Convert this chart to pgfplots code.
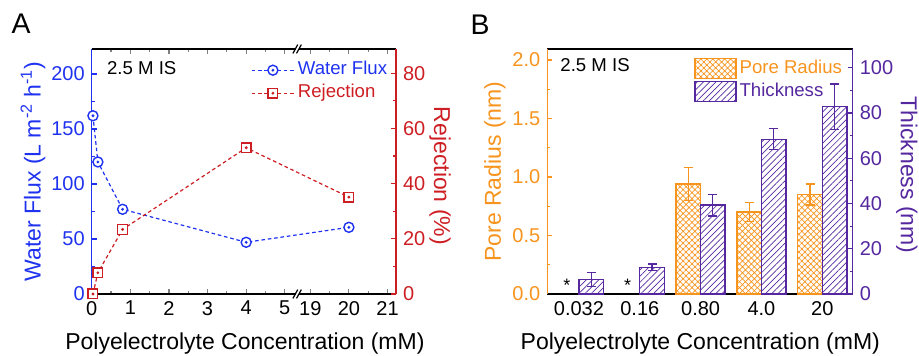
\documentclass[border=0pt]{standalone}
\usepackage{fontspec}
\setmainfont{Liberation Sans}
\usepackage{pgfplots}
\usepackage{pgfplotstable}
\pgfplotsset{compat=1.18}
\usetikzlibrary{patterns.meta}
\definecolor{blueC}{RGB}{30,50,240}
\definecolor{redC}{RGB}{205,30,35}
\definecolor{orangeC}{RGB}{247,148,30}
\definecolor{purpleC}{RGB}{85,40,160}

\pgfdeclareplotmark{odot}{%
  \pgfpathcircle{\pgfpointorigin}{\pgfplotmarksize}\pgfusepathqfillstroke
  \pgfpathcircle{\pgfpointorigin}{0.3pt}\pgfusepathqstroke}
\pgfdeclareplotmark{sdot}{%
  \pgfpathrectangle{\pgfpoint{-\pgfplotmarksize}{-\pgfplotmarksize}}{\pgfpoint{2\pgfplotmarksize}{2\pgfplotmarksize}}\pgfusepathqfillstroke
  \pgfpathcircle{\pgfpointorigin}{0.3pt}\pgfusepathqstroke}

\pgfplotstableread{
x y e
2 0.94 0.14
3 0.70 0.08
4 0.85 0.09
}\poretable
\pgfplotstableread{
x y e
0 6.5 3.1
1 11.8 1.5
2 39.3 4.8
3 68.4 4.7
4 82.8 10
}\thicktable

\pgfplotsset{
  common/.style={scale only axis, clip=false,
    tick align=inside, major tick length=2.5pt, minor tick length=1.5pt,
    /pgf/number format/assume math mode=true,
    tick label style={font=\fontsize{10}{12}\selectfont},
    label style={font=\fontsize{11.5}{13}\selectfont},
    tick style={line width=0.6pt},
    axis line style={line width=0.7pt},
    legend cell align=left,
    legend style={draw=none, fill=none, inner sep=0pt, font=\fontsize{9.3}{11}\selectfont,
      nodes={text height=6.6pt, text depth=1.9pt, inner sep=1.5pt}},
  },
  linelegend/.style={legend image code/.code={\draw[mark repeat=2,mark phase=2,##1] plot coordinates {(0pt,0pt) (10.7pt,0pt) (21.4pt,0pt)};}},
  boxlegend/.style={legend image code/.code={\draw[##1] (0pt,-5pt) rectangle (20.5pt,5pt);}},
}

\begin{document}
\begin{tikzpicture}
% ---------------- Panel A ----------------
\begin{axis}[at={(45.85pt,31pt)}, anchor=south west, width=152.15pt, height=122.5pt,
  xmin=0, xmax=7.88, ymin=0, ymax=222.7,
  axis x line=box, axis y line*=left,
  x axis line style={black,-}, y axis line style={blueC,-},
  x filter/.expression={x>10 ? x-13.34 : x},
  xtick={0,1,2,3,4,5,5.66,6.66,7.66}, xticklabels={0,1,2,3,4,5,19,20,21},
  minor xtick={0.5,1.5,2.5,3.5,4.5,6.16,7.16},
  xtick pos=both, xticklabel pos=lower,
  ytick={0,50,100,150,200}, yticklabels={0\hspace{4.5pt},50,100,150,200},
  minor ytick={25,75,125,175},
  ytick style={blueC}, yticklabel style={blueC},
  xlabel={Polyelectrolyte Concentration (mM)},
  xlabel style={at={(axis description cs:0.5035,-0.204)}, anchor=center},
  ylabel={Water Flux (L m\textsuperscript{-2} h\textsuperscript{-1})},
  ylabel style={at={(axis description cs:-0.1929,0.5)}, anchor=center, blueC},
  common, tick align=inside]
\addplot[blueC, line width=0.6pt, dash pattern=on 1.8pt off 1.4pt, mark=odot, mark size=2.5pt,
  mark options={solid, fill=white, line width=0.7pt}] table {
x y
0.032 162
0.16 120
0.8 77
4 47
20 60.6
};
\node[anchor=west, inner sep=0pt, font=\fontsize{9.3}{11}\selectfont] at (rel axis cs:0.0493,0.9237) {2.5 M IS};
\fill[white] (rel axis cs:0.6751,0) ++(-0.8pt,-0.8pt) rectangle ++(1.6pt,1.6pt);
\draw[black, line width=0.6pt] (rel axis cs:0.6751,0) ++(-2.1pt,-2.2pt) -- ++(2.4pt,4.4pt);
\draw[black, line width=0.6pt] (rel axis cs:0.6751,0) ++(-0.3pt,-2.2pt) -- ++(2.4pt,4.4pt);
\fill[white] (rel axis cs:0.6751,1) ++(-0.8pt,-0.8pt) rectangle ++(1.6pt,1.6pt);
\draw[black, line width=0.6pt] (rel axis cs:0.6751,1) ++(-2.1pt,-2.2pt) -- ++(2.4pt,4.4pt);
\draw[black, line width=0.6pt] (rel axis cs:0.6751,1) ++(-0.3pt,-2.2pt) -- ++(2.4pt,4.4pt);
\end{axis}
\begin{axis}[at={(45.85pt,31pt)}, anchor=south west, width=152.15pt, height=122.5pt,
  xmin=0, xmax=7.88, ymin=0, ymax=88.8,
  axis x line=none, axis y line*=right,
  y axis line style={redC,-},
  x filter/.expression={x>10 ? x-13.34 : x},
  ytick={0,20,40,60,80}, minor ytick={10,30,50,70},
  ytick style={redC}, yticklabel style={redC},
  ylabel={Rejection (\%)},
  ylabel style={at={(axis description cs:1.1446,0.482)}, anchor=center, rotate=180, redC},
  common, tick align=inside, linelegend,
  legend style={at={(axis description cs:0.982,0.962)}, anchor=north east}]
\addlegendimage{blueC, line width=0.6pt, dash pattern=on 1.8pt off 1.4pt, mark=odot, mark size=2.5pt,
  mark options={solid, fill=white, line width=0.7pt}}
\addlegendentry{\textcolor{blueC}{Water Flux}}
\addplot[redC, line width=0.6pt, dash pattern=on 1.8pt off 1.4pt, mark=sdot, mark size=2.4pt,
  mark options={solid, fill=white, line width=0.7pt}] table {
x y
0.032 0
0.16 7.7
0.8 23.4
4 53
20 35.1
};
\addlegendentry{\textcolor{redC}{Rejection}}
\end{axis}

% ---------------- Panel B ----------------
\begin{axis}[at={(273.65pt,31pt)}, anchor=south west, width=152.7pt, height=122.5pt,
  xmin=-0.52, xmax=4.5, ymin=0, ymax=2.094,
  axis x line=box, axis y line*=left,
  x axis line style={black,-}, y axis line style={orangeC,-},
  xtick={0,1,2,3,4}, xticklabels={0.032,0.16,0.80,4.0,20},
  xtick style={draw=none}, xticklabel pos=lower,
  ytick={0,0.5,1,1.5,2}, minor ytick={0.25,0.75,1.25,1.75},
  ytick style={orangeC},
  yticklabel style={orangeC, /pgf/number format/.cd, fixed, fixed zerofill, precision=1},
  xlabel={Polyelectrolyte Concentration (mM)},
  xlabel style={at={(axis description cs:0.501,-0.204)}, anchor=center},
  ylabel={Pore Radius (nm)},
  ylabel style={at={(axis description cs:-0.1713,0.5)}, anchor=center, orangeC},
  common, tick align=inside]
\addplot[ybar, bar width=12.25pt, bar shift=0pt, draw=orangeC, line width=0.7pt,
  pattern={Hatch[angle=45, distance=2.1pt, line width=0.35pt]}, pattern color=orangeC]
  table[x expr=\thisrow{x}-0.2015, y=y] {\poretable};
\addplot[draw=none, mark=none, forget plot,
  error bars/.cd, y dir=both, y explicit,
  error bar style={draw=orangeC, solid, line width=0.6pt},
  error mark options={rotate=90, draw=orangeC, mark size=2.25pt, line width=0.6pt}]
  table[x expr=\thisrow{x}-0.2015, y=y, y error=e] {\poretable};
\node[anchor=west, inner sep=0pt, font=\fontsize{9.3}{11}\selectfont] at (rel axis cs:0.0416,0.9347) {2.5 M IS};
\node[font=\fontsize{9}{11}\selectfont] at (axis cs:-0.2,0.07) {*};
\node[font=\fontsize{9}{11}\selectfont] at (axis cs:0.8,0.07) {*};
\end{axis}
\begin{axis}[at={(273.65pt,31pt)}, anchor=south west, width=152.7pt, height=122.5pt,
  xmin=-0.52, xmax=4.5, ymin=0, ymax=108.3,
  axis x line=none, axis y line*=right,
  y axis line style={purpleC,-},
  ytick={0,20,40,60,80,100}, minor ytick={10,30,50,70,90},
  ytick style={purpleC}, yticklabel style={purpleC},
  ylabel={Thickness (nm)},
  ylabel style={at={(axis description cs:1.1768,0.486)}, anchor=center, rotate=180, purpleC},
  common, tick align=inside,
  legend style={at={(axis description cs:0.976,0.969)}, anchor=north east, row sep=0pt}]
\addlegendimage{draw=orangeC, line width=0.7pt,
  pattern={Hatch[angle=45, distance=2.1pt, line width=0.35pt]}, pattern color=orangeC, boxlegend}
\addlegendentry{\textcolor{orangeC}{Pore Radius}}
\addplot[ybar, bar width=12.25pt, bar shift=0pt, draw=purpleC, line width=0.7pt,
  pattern={Lines[angle=45, distance=2.2pt, line width=0.35pt]}, pattern color=purpleC, boxlegend]
  table[x expr=\thisrow{x}+0.2015, y=y] {\thicktable};
\addlegendentry{\textcolor{purpleC}{Thickness}}
\addplot[draw=none, mark=none, forget plot,
  error bars/.cd, y dir=both, y explicit,
  error bar style={draw=purpleC, solid, line width=0.6pt},
  error mark options={rotate=90, draw=purpleC, mark size=2.25pt, line width=0.6pt}]
  table[x expr=\thisrow{x}+0.2015, y=y, y error=e] {\thicktable};
\end{axis}

\node[font=\fontsize{14.2}{17}\selectfont] at (10.6pt,165.9pt) {A};
\node[font=\fontsize{14.2}{17}\selectfont] at (240pt,165.5pt) {B};
\pgfresetboundingbox
\useasboundingbox (0,0) rectangle (459.5pt,178pt);
\end{tikzpicture}
\end{document}
